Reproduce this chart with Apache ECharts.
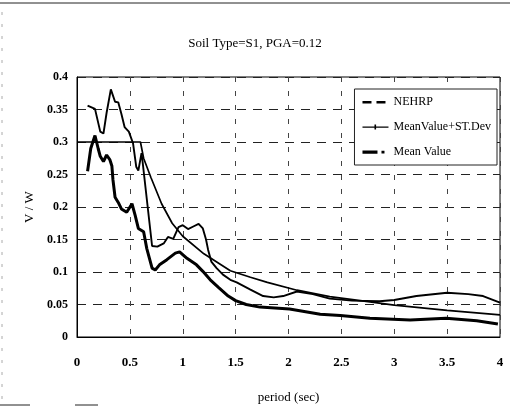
<!DOCTYPE html>
<html>
<head>
<meta charset="utf-8">
<script src="https://cdn.jsdelivr.net/npm/echarts@6/dist/echarts.min.js"></script>
<style>
  html, body { margin: 0; padding: 0; background: #fff; }
  #main { width: 510px; height: 409px; }
</style>
</head>
<body>
<div id="main"></div>
<script>
// values: [period (sec), V/W]
var nehrp = [
    [0, 0.3], [0.6, 0.3], [0.63, 0.275], [0.7, 0.245], [0.8, 0.205], [0.9, 0.175],
    [1.0, 0.155], [1.2, 0.128], [1.45, 0.102], [1.64, 0.092], [1.8, 0.084],
    [2.08, 0.072], [2.39, 0.062], [2.77, 0.054], [3.0, 0.049], [3.5, 0.041], [4.0, 0.034]
];
var meanPlusSd = [
    [0.1, 0.356], [0.17, 0.351], [0.22, 0.316], [0.25, 0.313], [0.28, 0.345], [0.32, 0.381],
    [0.36, 0.362], [0.39, 0.361], [0.42, 0.343], [0.45, 0.323], [0.49, 0.316], [0.53, 0.298],
    [0.56, 0.262], [0.58, 0.256], [0.61, 0.283], [0.62, 0.27], [0.71, 0.14], [0.76, 0.139],
    [0.82, 0.144], [0.86, 0.154], [0.91, 0.151], [0.96, 0.169], [1.0, 0.172], [1.05, 0.166],
    [1.1, 0.17], [1.15, 0.174], [1.19, 0.167], [1.22, 0.15], [1.24, 0.134], [1.27, 0.116],
    [1.32, 0.106], [1.38, 0.096], [1.45, 0.088], [1.51, 0.084], [1.64, 0.073], [1.76, 0.063],
    [1.86, 0.061], [1.95, 0.063], [2.08, 0.07], [2.23, 0.066], [2.39, 0.059], [2.6, 0.056],
    [2.86, 0.055], [3.0, 0.057], [3.21, 0.063], [3.5, 0.068], [3.7, 0.066], [3.84, 0.063], [4.0, 0.053]
];
var meanValue = [
    [0.1, 0.255], [0.13, 0.29], [0.17, 0.31], [0.2, 0.29], [0.22, 0.278], [0.25, 0.27],
    [0.28, 0.28], [0.31, 0.273], [0.33, 0.263], [0.34, 0.242], [0.36, 0.215], [0.39, 0.207],
    [0.42, 0.197], [0.47, 0.192], [0.52, 0.205], [0.55, 0.187], [0.58, 0.167], [0.63, 0.162],
    [0.66, 0.136], [0.71, 0.106], [0.74, 0.103], [0.78, 0.111], [0.85, 0.119], [0.93, 0.129],
    [0.97, 0.131], [1.04, 0.121], [1.13, 0.111], [1.19, 0.101], [1.26, 0.088], [1.34, 0.076],
    [1.43, 0.063], [1.5, 0.056], [1.6, 0.05], [1.73, 0.046], [2.01, 0.043], [2.3, 0.035],
    [2.49, 0.033], [2.77, 0.029], [3.15, 0.026], [3.49, 0.029], [3.78, 0.025], [3.98, 0.02]
];
var seriesNames = ['NEHRP', 'MeanValue+ST.Dev', 'Mean Value'];

// legend keys as in the scan: dashes / line with tick / thick bar and dot
var iconDashed = 'path://M0,0Z M0,4H9V6.5H0Z M14,4H23V6.5H14Z M26,10Z';
var iconTick = 'path://M0,0Z M0,4.4H26V5.8H0Z M12,2.5H13.6V7.6H12Z M26,10Z';
var iconThick = 'path://M0,0Z M0,3.5H15V6.7H0Z M19,3.8H22V6.5H19Z M26,10Z';

var serif = 'Liberation Serif';
var chart = echarts.init(document.getElementById('main'));

var option = {
    animation: false,
    backgroundColor: '#fff',
    title: {
        text: 'Soil Type=S1, PGA=0.12',
        left: 'center',
        top: 32,
        textStyle: { fontFamily: serif, fontSize: 13, fontWeight: 'normal', color: '#000' }
    },
    legend: {
        orient: 'vertical',
        right: 13,
        top: 89,
        padding: [7, 6, 7, 8],
        itemGap: 13,
        itemWidth: 26,
        itemHeight: 10,
        backgroundColor: '#fff',
        borderColor: '#222',
        borderWidth: 1,
        textStyle: { fontFamily: serif, fontSize: 12, color: '#000' },
        data: [
            { name: seriesNames[0], icon: iconDashed },
            { name: seriesNames[1], icon: iconTick },
            { name: seriesNames[2], icon: iconThick }
        ]
    },
    grid: {
        left: 77, right: 10, top: 77, bottom: 69,
        show: true, borderColor: '#000', borderWidth: 1
    },
    xAxis: {
        type: 'value',
        min: 0, max: 4, interval: 0.5,
        name: 'period (sec)',
        nameLocation: 'middle',
        nameGap: 54,
        nameTextStyle: { fontFamily: serif, fontSize: 13, color: '#000' },
        axisLine: { lineStyle: { color: '#000', width: 1 } },
        axisTick: { show: false },
        axisLabel: { fontFamily: serif, fontSize: 13, fontWeight: 'bold', color: '#000', margin: 19 },
        splitLine: { show: true, lineStyle: { color: '#444', type: [5, 9], width: 1 } }
    },
    yAxis: {
        type: 'value',
        min: 0, max: 0.4, interval: 0.05,
        name: 'V / W',
        nameLocation: 'middle',
        nameGap: 37,
        nameTextStyle: { fontFamily: serif, fontSize: 13, color: '#000' },
        axisLine: { show: true, lineStyle: { color: '#000', width: 1 } },
        axisTick: { show: false },
        axisLabel: { fontFamily: serif, fontSize: 12, fontWeight: 'bold', color: '#000', margin: 9 },
        splitLine: { show: true, lineStyle: { color: '#222', type: [9, 7], width: 1 } }
    },
    series: [
        {
            name: seriesNames[0], type: 'line', data: nehrp,
            symbol: 'none', color: '#000',
            lineStyle: { color: '#000', width: 1.7 }
        },
        {
            name: seriesNames[1], type: 'line', data: meanPlusSd,
            symbol: 'none', color: '#000',
            lineStyle: { color: '#000', width: 1.9 }
        },
        {
            name: seriesNames[2], type: 'line', data: meanValue,
            symbol: 'none', color: '#000',
            lineStyle: { color: '#000', width: 3 }
        }
    ],
    graphic: [
        { type: 'line', shape: { x1: 0, y1: 3, x2: 510, y2: 3 }, style: { stroke: '#222', lineWidth: 1 } },
        { type: 'line', shape: { x1: 2, y1: 12, x2: 2, y2: 400 }, style: { stroke: '#aaa', lineWidth: 1, lineDash: [3, 9] } },
        { type: 'line', shape: { x1: 0, y1: 405, x2: 30, y2: 405 }, style: { stroke: '#222', lineWidth: 1 } },
        { type: 'line', shape: { x1: 75, y1: 405, x2: 98, y2: 405 }, style: { stroke: '#222', lineWidth: 1 } }
    ]
};
chart.setOption(option);
</script>
</body>
</html>
